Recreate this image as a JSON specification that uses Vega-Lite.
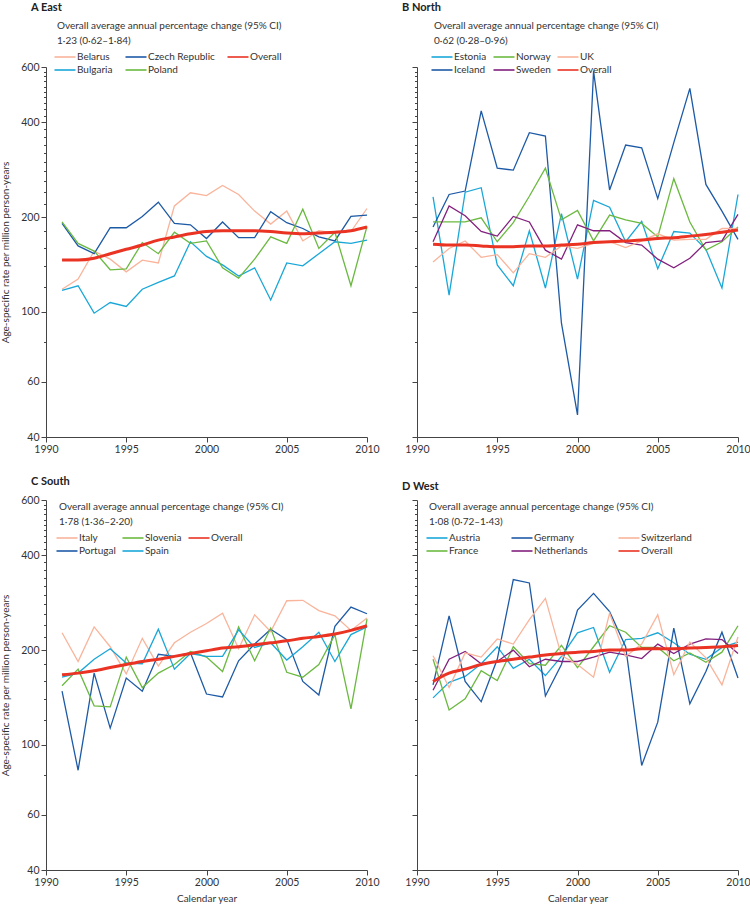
{
  "$schema": "https://vega.github.io/schema/vega-lite/v6.json",
  "padding": {"top": 2, "left": 0, "right": 0, "bottom": 0},
  "background": "white",
  "resolve": {"scale": {"color": "independent"}, "legend": {"color": "independent"}},
  "config": {
    "view": {"stroke": null},
    "font": "Lato",
    "title": {"font": "Lato", "fontSize": 11, "fontWeight": "bold", "color": "#222", "anchor": "start", "frame": "group", "dx": -15, "offset": 8},
    "axis": {"domainColor": "#444", "tickColor": "#444", "labelFont": "Lato", "labelFontSize": 10.5, "labelColor": "#333", "titleFont": "Lato", "titleFontWeight": "normal", "titleFontSize": 10, "titleColor": "#333", "grid": false, "labelFlush": false},
    "legend": {"symbolType": "M-1.5,0H1.5", "symbolSize": 196, "symbolStrokeWidth": 1.6, "labelFont": "Lato", "labelFontSize": 10, "labelColor": "#333", "titleFont": "Lato", "titleFontWeight": "normal", "titleFontSize": 10, "titleColor": "#333", "titleLineHeight": 15, "titlePadding": 3, "rowPadding": 0, "columnPadding": 6, "labelOffset": 4, "titleLimit": 400, "labelLimit": 200, "padding": 0, "offset": 0, "columns": 3, "orient": "none"}
  },
  "datasets": {
    "east": [
      {"country":"Belarus","year":1991,"rate":118},{"country":"Belarus","year":1992,"rate":127},{"country":"Belarus","year":1993,"rate":156},{"country":"Belarus","year":1994,"rate":147},{"country":"Belarus","year":1995,"rate":134},{"country":"Belarus","year":1996,"rate":146},{"country":"Belarus","year":1997,"rate":143},{"country":"Belarus","year":1998,"rate":217},{"country":"Belarus","year":1999,"rate":239},{"country":"Belarus","year":2000,"rate":234},{"country":"Belarus","year":2001,"rate":252},{"country":"Belarus","year":2002,"rate":236},{"country":"Belarus","year":2003,"rate":209},{"country":"Belarus","year":2004,"rate":190},{"country":"Belarus","year":2005,"rate":209},{"country":"Belarus","year":2006,"rate":168},{"country":"Belarus","year":2007,"rate":181},{"country":"Belarus","year":2008,"rate":178},{"country":"Belarus","year":2009,"rate":180},{"country":"Belarus","year":2010,"rate":213},
      {"country":"Czech Republic","year":1991,"rate":191},{"country":"Czech Republic","year":1992,"rate":162},{"country":"Czech Republic","year":1993,"rate":153},{"country":"Czech Republic","year":1994,"rate":185},{"country":"Czech Republic","year":1995,"rate":185},{"country":"Czech Republic","year":1996,"rate":201},{"country":"Czech Republic","year":1997,"rate":223},{"country":"Czech Republic","year":1998,"rate":191},{"country":"Czech Republic","year":1999,"rate":189},{"country":"Czech Republic","year":2000,"rate":171},{"country":"Czech Republic","year":2001,"rate":193},{"country":"Czech Republic","year":2002,"rate":172},{"country":"Czech Republic","year":2003,"rate":172},{"country":"Czech Republic","year":2004,"rate":208},{"country":"Czech Republic","year":2005,"rate":192},{"country":"Czech Republic","year":2006,"rate":184},{"country":"Czech Republic","year":2007,"rate":173},{"country":"Czech Republic","year":2008,"rate":168},{"country":"Czech Republic","year":2009,"rate":201},{"country":"Czech Republic","year":2010,"rate":203},
      {"country":"Bulgaria","year":1991,"rate":117},{"country":"Bulgaria","year":1992,"rate":121},{"country":"Bulgaria","year":1993,"rate":99},{"country":"Bulgaria","year":1994,"rate":107},{"country":"Bulgaria","year":1995,"rate":104},{"country":"Bulgaria","year":1996,"rate":118},{"country":"Bulgaria","year":1997,"rate":124},{"country":"Bulgaria","year":1998,"rate":130},{"country":"Bulgaria","year":1999,"rate":167},{"country":"Bulgaria","year":2000,"rate":150},{"country":"Bulgaria","year":2001,"rate":141},{"country":"Bulgaria","year":2002,"rate":130},{"country":"Bulgaria","year":2003,"rate":138},{"country":"Bulgaria","year":2004,"rate":109},{"country":"Bulgaria","year":2005,"rate":143},{"country":"Bulgaria","year":2006,"rate":140},{"country":"Bulgaria","year":2007,"rate":153},{"country":"Bulgaria","year":2008,"rate":167},{"country":"Bulgaria","year":2009,"rate":165},{"country":"Bulgaria","year":2010,"rate":169},
      {"country":"Poland","year":1991,"rate":193},{"country":"Poland","year":1992,"rate":165},{"country":"Poland","year":1993,"rate":156},{"country":"Poland","year":1994,"rate":136},{"country":"Poland","year":1995,"rate":137},{"country":"Poland","year":1996,"rate":166},{"country":"Poland","year":1997,"rate":153},{"country":"Poland","year":1998,"rate":179},{"country":"Poland","year":1999,"rate":165},{"country":"Poland","year":2000,"rate":168},{"country":"Poland","year":2001,"rate":138},{"country":"Poland","year":2002,"rate":128},{"country":"Poland","year":2003,"rate":147},{"country":"Poland","year":2004,"rate":173},{"country":"Poland","year":2005,"rate":165},{"country":"Poland","year":2006,"rate":212},{"country":"Poland","year":2007,"rate":159},{"country":"Poland","year":2008,"rate":179},{"country":"Poland","year":2009,"rate":121},{"country":"Poland","year":2010,"rate":187},
      {"country":"Overall","year":1991,"rate":146},{"country":"Overall","year":1992,"rate":146},{"country":"Overall","year":1993,"rate":148},{"country":"Overall","year":1994,"rate":153},{"country":"Overall","year":1995,"rate":158},{"country":"Overall","year":1996,"rate":163},{"country":"Overall","year":1997,"rate":169},{"country":"Overall","year":1998,"rate":173},{"country":"Overall","year":1999,"rate":177},{"country":"Overall","year":2000,"rate":180},{"country":"Overall","year":2001,"rate":181},{"country":"Overall","year":2002,"rate":181},{"country":"Overall","year":2003,"rate":181},{"country":"Overall","year":2004,"rate":180},{"country":"Overall","year":2005,"rate":178},{"country":"Overall","year":2006,"rate":177},{"country":"Overall","year":2007,"rate":178},{"country":"Overall","year":2008,"rate":179},{"country":"Overall","year":2009,"rate":181},{"country":"Overall","year":2010,"rate":186}
    ],
    "north": [
      {"country":"Estonia","year":1991,"rate":232},{"country":"Estonia","year":1992,"rate":113},{"country":"Estonia","year":1993,"rate":240},{"country":"Estonia","year":1994,"rate":248},{"country":"Estonia","year":1995,"rate":141},{"country":"Estonia","year":1996,"rate":121},{"country":"Estonia","year":1997,"rate":181},{"country":"Estonia","year":1998,"rate":119},{"country":"Estonia","year":1999,"rate":205},{"country":"Estonia","year":2000,"rate":127},{"country":"Estonia","year":2001,"rate":226},{"country":"Estonia","year":2002,"rate":215},{"country":"Estonia","year":2003,"rate":167},{"country":"Estonia","year":2004,"rate":194},{"country":"Estonia","year":2005,"rate":137},{"country":"Estonia","year":2006,"rate":180},{"country":"Estonia","year":2007,"rate":178},{"country":"Estonia","year":2008,"rate":158},{"country":"Estonia","year":2009,"rate":119},{"country":"Estonia","year":2010,"rate":236},
      {"country":"Iceland","year":1991,"rate":186},{"country":"Iceland","year":1992,"rate":236},{"country":"Iceland","year":1993,"rate":242},{"country":"Iceland","year":1994,"rate":435},{"country":"Iceland","year":1995,"rate":286},{"country":"Iceland","year":1996,"rate":282},{"country":"Iceland","year":1997,"rate":371},{"country":"Iceland","year":1998,"rate":362},{"country":"Iceland","year":1999,"rate":92},{"country":"Iceland","year":2000,"rate":47},{"country":"Iceland","year":2001,"rate":582},{"country":"Iceland","year":2002,"rate":244},{"country":"Iceland","year":2003,"rate":339},{"country":"Iceland","year":2004,"rate":332},{"country":"Iceland","year":2005,"rate":229},{"country":"Iceland","year":2006,"rate":345},{"country":"Iceland","year":2007,"rate":513},{"country":"Iceland","year":2008,"rate":254},{"country":"Iceland","year":2009,"rate":209},{"country":"Iceland","year":2010,"rate":170},
      {"country":"Norway","year":1991,"rate":193},{"country":"Norway","year":1992,"rate":193},{"country":"Norway","year":1993,"rate":193},{"country":"Norway","year":1994,"rate":199},{"country":"Norway","year":1995,"rate":167},{"country":"Norway","year":1996,"rate":192},{"country":"Norway","year":1997,"rate":233},{"country":"Norway","year":1998,"rate":286},{"country":"Norway","year":1999,"rate":196},{"country":"Norway","year":2000,"rate":210},{"country":"Norway","year":2001,"rate":168},{"country":"Norway","year":2002,"rate":203},{"country":"Norway","year":2003,"rate":196},{"country":"Norway","year":2004,"rate":191},{"country":"Norway","year":2005,"rate":173},{"country":"Norway","year":2006,"rate":265},{"country":"Norway","year":2007,"rate":193},{"country":"Norway","year":2008,"rate":157},{"country":"Norway","year":2009,"rate":167},{"country":"Norway","year":2010,"rate":186},
      {"country":"Sweden","year":1991,"rate":167},{"country":"Sweden","year":1992,"rate":217},{"country":"Sweden","year":1993,"rate":202},{"country":"Sweden","year":1994,"rate":180},{"country":"Sweden","year":1995,"rate":174},{"country":"Sweden","year":1996,"rate":201},{"country":"Sweden","year":1997,"rate":193},{"country":"Sweden","year":1998,"rate":157},{"country":"Sweden","year":1999,"rate":147},{"country":"Sweden","year":2000,"rate":189},{"country":"Sweden","year":2001,"rate":181},{"country":"Sweden","year":2002,"rate":181},{"country":"Sweden","year":2003,"rate":166},{"country":"Sweden","year":2004,"rate":163},{"country":"Sweden","year":2005,"rate":147},{"country":"Sweden","year":2006,"rate":138},{"country":"Sweden","year":2007,"rate":148},{"country":"Sweden","year":2008,"rate":166},{"country":"Sweden","year":2009,"rate":168},{"country":"Sweden","year":2010,"rate":204},
      {"country":"UK","year":1991,"rate":144},{"country":"UK","year":1992,"rate":159},{"country":"UK","year":1993,"rate":168},{"country":"UK","year":1994,"rate":149},{"country":"UK","year":1995,"rate":152},{"country":"UK","year":1996,"rate":133},{"country":"UK","year":1997,"rate":153},{"country":"UK","year":1998,"rate":149},{"country":"UK","year":1999,"rate":162},{"country":"UK","year":2000,"rate":159},{"country":"UK","year":2001,"rate":165},{"country":"UK","year":2002,"rate":167},{"country":"UK","year":2003,"rate":160},{"country":"UK","year":2004,"rate":168},{"country":"UK","year":2005,"rate":177},{"country":"UK","year":2006,"rate":169},{"country":"UK","year":2007,"rate":170},{"country":"UK","year":2008,"rate":170},{"country":"UK","year":2009,"rate":184},{"country":"UK","year":2010,"rate":184},
      {"country":"Overall","year":1991,"rate":164},{"country":"Overall","year":1992,"rate":163},{"country":"Overall","year":1993,"rate":163},{"country":"Overall","year":1994,"rate":162},{"country":"Overall","year":1995,"rate":161},{"country":"Overall","year":1996,"rate":161},{"country":"Overall","year":1997,"rate":162},{"country":"Overall","year":1998,"rate":162},{"country":"Overall","year":1999,"rate":163},{"country":"Overall","year":2000,"rate":164},{"country":"Overall","year":2001,"rate":166},{"country":"Overall","year":2002,"rate":167},{"country":"Overall","year":2003,"rate":168},{"country":"Overall","year":2004,"rate":169},{"country":"Overall","year":2005,"rate":171},{"country":"Overall","year":2006,"rate":172},{"country":"Overall","year":2007,"rate":174},{"country":"Overall","year":2008,"rate":176},{"country":"Overall","year":2009,"rate":179},{"country":"Overall","year":2010,"rate":182}
    ],
    "south": [
      {"country":"Italy","year":1991,"rate":227},{"country":"Italy","year":1992,"rate":184},{"country":"Italy","year":1993,"rate":237},{"country":"Italy","year":1994,"rate":205},{"country":"Italy","year":1995,"rate":168},{"country":"Italy","year":1996,"rate":218},{"country":"Italy","year":1997,"rate":178},{"country":"Italy","year":1998,"rate":211},{"country":"Italy","year":1999,"rate":228},{"country":"Italy","year":2000,"rate":243},{"country":"Italy","year":2001,"rate":262},{"country":"Italy","year":2002,"rate":202},{"country":"Italy","year":2003,"rate":259},{"country":"Italy","year":2004,"rate":229},{"country":"Italy","year":2005,"rate":287},{"country":"Italy","year":2006,"rate":288},{"country":"Italy","year":2007,"rate":267},{"country":"Italy","year":2008,"rate":257},{"country":"Italy","year":2009,"rate":231},{"country":"Italy","year":2010,"rate":253},
      {"country":"Portugal","year":1991,"rate":148},{"country":"Portugal","year":1992,"rate":83},{"country":"Portugal","year":1993,"rate":169},{"country":"Portugal","year":1994,"rate":113},{"country":"Portugal","year":1995,"rate":163},{"country":"Portugal","year":1996,"rate":148},{"country":"Portugal","year":1997,"rate":194},{"country":"Portugal","year":1998,"rate":191},{"country":"Portugal","year":1999,"rate":196},{"country":"Portugal","year":2000,"rate":145},{"country":"Portugal","year":2001,"rate":142},{"country":"Portugal","year":2002,"rate":185},{"country":"Portugal","year":2003,"rate":209},{"country":"Portugal","year":2004,"rate":233},{"country":"Portugal","year":2005,"rate":216},{"country":"Portugal","year":2006,"rate":159},{"country":"Portugal","year":2007,"rate":144},{"country":"Portugal","year":2008,"rate":238},{"country":"Portugal","year":2009,"rate":274},{"country":"Portugal","year":2010,"rate":261},
      {"country":"Slovenia","year":1991,"rate":154},{"country":"Slovenia","year":1992,"rate":174},{"country":"Slovenia","year":1993,"rate":133},{"country":"Slovenia","year":1994,"rate":132},{"country":"Slovenia","year":1995,"rate":190},{"country":"Slovenia","year":1996,"rate":152},{"country":"Slovenia","year":1997,"rate":169},{"country":"Slovenia","year":1998,"rate":180},{"country":"Slovenia","year":1999,"rate":198},{"country":"Slovenia","year":2000,"rate":190},{"country":"Slovenia","year":2001,"rate":171},{"country":"Slovenia","year":2002,"rate":237},{"country":"Slovenia","year":2003,"rate":185},{"country":"Slovenia","year":2004,"rate":235},{"country":"Slovenia","year":2005,"rate":170},{"country":"Slovenia","year":2006,"rate":164},{"country":"Slovenia","year":2007,"rate":180},{"country":"Slovenia","year":2008,"rate":224},{"country":"Slovenia","year":2009,"rate":130},{"country":"Slovenia","year":2010,"rate":251},
      {"country":"Spain","year":1991,"rate":164},{"country":"Spain","year":1992,"rate":169},{"country":"Spain","year":1993,"rate":187},{"country":"Spain","year":1994,"rate":202},{"country":"Spain","year":1995,"rate":182},{"country":"Spain","year":1996,"rate":181},{"country":"Spain","year":1997,"rate":233},{"country":"Spain","year":1998,"rate":174},{"country":"Spain","year":1999,"rate":195},{"country":"Spain","year":2000,"rate":191},{"country":"Spain","year":2001,"rate":191},{"country":"Spain","year":2002,"rate":232},{"country":"Spain","year":2003,"rate":204},{"country":"Spain","year":2004,"rate":211},{"country":"Spain","year":2005,"rate":186},{"country":"Spain","year":2006,"rate":205},{"country":"Spain","year":2007,"rate":228},{"country":"Spain","year":2008,"rate":184},{"country":"Spain","year":2009,"rate":224},{"country":"Spain","year":2010,"rate":237},
      {"country":"Overall","year":1991,"rate":167},{"country":"Overall","year":1992,"rate":169},{"country":"Overall","year":1993,"rate":172},{"country":"Overall","year":1994,"rate":176},{"country":"Overall","year":1995,"rate":180},{"country":"Overall","year":1996,"rate":184},{"country":"Overall","year":1997,"rate":187},{"country":"Overall","year":1998,"rate":191},{"country":"Overall","year":1999,"rate":195},{"country":"Overall","year":2000,"rate":199},{"country":"Overall","year":2001,"rate":203},{"country":"Overall","year":2002,"rate":205},{"country":"Overall","year":2003,"rate":208},{"country":"Overall","year":2004,"rate":211},{"country":"Overall","year":2005,"rate":214},{"country":"Overall","year":2006,"rate":218},{"country":"Overall","year":2007,"rate":221},{"country":"Overall","year":2008,"rate":225},{"country":"Overall","year":2009,"rate":231},{"country":"Overall","year":2010,"rate":239}
    ],
    "west": [
      {"country":"Austria","year":1991,"rate":141},{"country":"Austria","year":1992,"rate":158},{"country":"Austria","year":1993,"rate":165},{"country":"Austria","year":1994,"rate":181},{"country":"Austria","year":1995,"rate":205},{"country":"Austria","year":1996,"rate":175},{"country":"Austria","year":1997,"rate":187},{"country":"Austria","year":1998,"rate":166},{"country":"Austria","year":1999,"rate":191},{"country":"Austria","year":2000,"rate":227},{"country":"Austria","year":2001,"rate":236},{"country":"Austria","year":2002,"rate":170},{"country":"Austria","year":2003,"rate":216},{"country":"Austria","year":2004,"rate":218},{"country":"Austria","year":2005,"rate":227},{"country":"Austria","year":2006,"rate":211},{"country":"Austria","year":2007,"rate":194},{"country":"Austria","year":2008,"rate":187},{"country":"Austria","year":2009,"rate":204},{"country":"Austria","year":2010,"rate":212},
      {"country":"Germany","year":1991,"rate":155},{"country":"Germany","year":1992,"rate":257},{"country":"Germany","year":1993,"rate":159},{"country":"Germany","year":1994,"rate":137},{"country":"Germany","year":1995,"rate":187},{"country":"Germany","year":1996,"rate":335},{"country":"Germany","year":1997,"rate":327},{"country":"Germany","year":1998,"rate":143},{"country":"Germany","year":1999,"rate":180},{"country":"Germany","year":2000,"rate":268},{"country":"Germany","year":2001,"rate":303},{"country":"Germany","year":2002,"rate":265},{"country":"Germany","year":2003,"rate":205},{"country":"Germany","year":2004,"rate":86},{"country":"Germany","year":2005,"rate":118},{"country":"Germany","year":2006,"rate":235},{"country":"Germany","year":2007,"rate":135},{"country":"Germany","year":2008,"rate":171},{"country":"Germany","year":2009,"rate":228},{"country":"Germany","year":2010,"rate":163},
      {"country":"France","year":1991,"rate":187},{"country":"France","year":1992,"rate":129},{"country":"France","year":1993,"rate":140},{"country":"France","year":1994,"rate":172},{"country":"France","year":1995,"rate":160},{"country":"France","year":1996,"rate":205},{"country":"France","year":1997,"rate":181},{"country":"France","year":1998,"rate":179},{"country":"France","year":1999,"rate":207},{"country":"France","year":2000,"rate":176},{"country":"France","year":2001,"rate":205},{"country":"France","year":2002,"rate":239},{"country":"France","year":2003,"rate":228},{"country":"France","year":2004,"rate":204},{"country":"France","year":2005,"rate":204},{"country":"France","year":2006,"rate":185},{"country":"France","year":2007,"rate":196},{"country":"France","year":2008,"rate":183},{"country":"France","year":2009,"rate":197},{"country":"France","year":2010,"rate":239},
      {"country":"Netherlands","year":1991,"rate":149},{"country":"Netherlands","year":1992,"rate":187},{"country":"Netherlands","year":1993,"rate":198},{"country":"Netherlands","year":1994,"rate":181},{"country":"Netherlands","year":1995,"rate":184},{"country":"Netherlands","year":1996,"rate":200},{"country":"Netherlands","year":1997,"rate":177},{"country":"Netherlands","year":1998,"rate":187},{"country":"Netherlands","year":1999,"rate":184},{"country":"Netherlands","year":2000,"rate":184},{"country":"Netherlands","year":2001,"rate":190},{"country":"Netherlands","year":2002,"rate":197},{"country":"Netherlands","year":2003,"rate":193},{"country":"Netherlands","year":2004,"rate":188},{"country":"Netherlands","year":2005,"rate":209},{"country":"Netherlands","year":2006,"rate":195},{"country":"Netherlands","year":2007,"rate":209},{"country":"Netherlands","year":2008,"rate":217},{"country":"Netherlands","year":2009,"rate":216},{"country":"Netherlands","year":2010,"rate":195},
      {"country":"Switzerland","year":1991,"rate":192},{"country":"Switzerland","year":1992,"rate":152},{"country":"Switzerland","year":1993,"rate":196},{"country":"Switzerland","year":1994,"rate":190},{"country":"Switzerland","year":1995,"rate":217},{"country":"Switzerland","year":1996,"rate":209},{"country":"Switzerland","year":1997,"rate":250},{"country":"Switzerland","year":1998,"rate":292},{"country":"Switzerland","year":1999,"rate":192},{"country":"Switzerland","year":2000,"rate":180},{"country":"Switzerland","year":2001,"rate":164},{"country":"Switzerland","year":2002,"rate":262},{"country":"Switzerland","year":2003,"rate":191},{"country":"Switzerland","year":2004,"rate":209},{"country":"Switzerland","year":2005,"rate":259},{"country":"Switzerland","year":2006,"rate":167},{"country":"Switzerland","year":2007,"rate":212},{"country":"Switzerland","year":2008,"rate":189},{"country":"Switzerland","year":2009,"rate":155},{"country":"Switzerland","year":2010,"rate":220},
      {"country":"Overall","year":1991,"rate":159},{"country":"Overall","year":1992,"rate":169},{"country":"Overall","year":1993,"rate":174},{"country":"Overall","year":1994,"rate":180},{"country":"Overall","year":1995,"rate":184},{"country":"Overall","year":1996,"rate":187},{"country":"Overall","year":1997,"rate":190},{"country":"Overall","year":1998,"rate":193},{"country":"Overall","year":1999,"rate":195},{"country":"Overall","year":2000,"rate":197},{"country":"Overall","year":2001,"rate":198},{"country":"Overall","year":2002,"rate":200},{"country":"Overall","year":2003,"rate":200},{"country":"Overall","year":2004,"rate":202},{"country":"Overall","year":2005,"rate":202},{"country":"Overall","year":2006,"rate":202},{"country":"Overall","year":2007,"rate":203},{"country":"Overall","year":2008,"rate":204},{"country":"Overall","year":2009,"rate":205},{"country":"Overall","year":2010,"rate":207}
    ]
  },
  "vconcat": [
    {
      "resolve": {"scale": {"color": "independent"}, "legend": {"color": "independent"}},
      "hconcat": [
        {
          "width": 321, "height": 370,
          "title": {"text": "A   East"},
          "data": {"name": "east"},
          "encoding": {
            "x": {"field": "year", "type": "quantitative", "scale": {"domain": [1990, 2010], "nice": false, "zero": false}, "axis": {"values": [1990, 1995, 2000, 2005, 2010], "format": "d", "title": null, "tickSize": 5, "labelPadding": 2}},
            "y": {"field": "rate", "type": "quantitative", "scale": {"type": "log", "domain": [40, 600], "nice": false}, "axis": {"values": [40,60,80,100,120,140,160,180,200,220,240,260,280,300,320,340,360,380,400,420,440,460,480,500,520,540,560,580,600], "format": "d", "labelExpr": "indexof([40,60,100,200,400,600], datum.value) >= 0 ? datum.label : ''", "tickSize": {"condition": {"test": "indexof([40,60,100,200,400,600], datum.value) >= 0", "value": 5}, "value": 2.5}, "labelPadding": 2, "title": "Age-specific rate per million person-years", "titlePadding": 10}},
            "color": {"field": "country", "type": "nominal", "scale": {"domain": ["Belarus", "Bulgaria", "Czech Republic", "Poland", "Overall"], "range": ["#f9b49b", "#1aa7d8", "#1d5aa6", "#6bb940", "#ea3323"]}, "legend": {"title": ["Overall average annual percentage change (95% CI)", "1·23 (0·62–1·84)"], "legendX": 11, "legendY": -46, "columnPadding": 9}}
          },
          "layer": [
            {"transform": [{"filter": "datum.country !== 'Overall'"}], "mark": {"type": "line", "strokeWidth": 1.3}},
            {"transform": [{"filter": "datum.country === 'Overall'"}], "mark": {"type": "line", "strokeWidth": 3, "interpolate": "monotone"}}
          ]
        },
        {
          "width": 321, "height": 370,
          "title": {"text": "B   North"},
          "data": {"name": "north"},
          "encoding": {
            "x": {"field": "year", "type": "quantitative", "scale": {"domain": [1990, 2010], "nice": false, "zero": false}, "axis": {"values": [1990, 1995, 2000, 2005, 2010], "format": "d", "title": null, "tickSize": 5, "labelPadding": 2}},
            "y": {"field": "rate", "type": "quantitative", "scale": {"type": "log", "domain": [40, 600], "nice": false}, "axis": {"values": [40,60,80,100,120,140,160,180,200,220,240,260,280,300,320,340,360,380,400,420,440,460,480,500,520,540,560,580,600], "labels": false, "tickSize": {"condition": {"test": "indexof([40,60,100,200,400,600], datum.value) >= 0", "value": 5}, "value": 2.5}, "title": null}},
            "color": {"field": "country", "type": "nominal", "scale": {"domain": ["Estonia", "Iceland", "Norway", "Sweden", "UK", "Overall"], "range": ["#1aa7d8", "#1d5aa6", "#6bb940", "#83207e", "#f9b49b", "#ea3323"]}, "legend": {"title": ["Overall average  annual percentage change (95% CI)", "0·62 (0·28–0·96)"], "legendX": 17, "legendY": -46, "columnPadding": 3}}
          },
          "layer": [
            {"transform": [{"filter": "datum.country !== 'Overall'"}], "mark": {"type": "line", "strokeWidth": 1.3}},
            {"transform": [{"filter": "datum.country === 'Overall'"}], "mark": {"type": "line", "strokeWidth": 3, "interpolate": "monotone"}}
          ]
        }
      ],
      "spacing": 22
    },
    {
      "resolve": {"scale": {"color": "independent"}, "legend": {"color": "independent"}},
      "hconcat": [
        {
          "width": 321, "height": 370,
          "title": {"text": "C   South"},
          "data": {"name": "south"},
          "encoding": {
            "x": {"field": "year", "type": "quantitative", "scale": {"domain": [1990, 2010], "nice": false, "zero": false}, "axis": {"values": [1990, 1995, 2000, 2005, 2010], "format": "d", "title": "Calendar year", "titlePadding": 6, "tickSize": 5, "labelPadding": 2}},
            "y": {"field": "rate", "type": "quantitative", "scale": {"type": "log", "domain": [40, 600], "nice": false}, "axis": {"values": [40,60,80,100,120,140,160,180,200,220,240,260,280,300,320,340,360,380,400,420,440,460,480,500,520,540,560,580,600], "format": "d", "labelExpr": "indexof([40,60,100,200,400,600], datum.value) >= 0 ? datum.label : ''", "tickSize": {"condition": {"test": "indexof([40,60,100,200,400,600], datum.value) >= 0", "value": 5}, "value": 2.5}, "labelPadding": 2, "title": "Age-specific rate per million person-years", "titlePadding": 10}},
            "color": {"field": "country", "type": "nominal", "scale": {"domain": ["Italy", "Portugal", "Slovenia", "Spain", "Overall"], "range": ["#f9b49b", "#1d5aa6", "#6bb940", "#1aa7d8", "#ea3323"]}, "legend": {"title": ["Overall average annual percentage change (95% CI)", "1·78 (1·36–2·20)"], "legendX": 13, "legendY": 2, "columnPadding": 3}}
          },
          "layer": [
            {"transform": [{"filter": "datum.country !== 'Overall'"}], "mark": {"type": "line", "strokeWidth": 1.3}},
            {"transform": [{"filter": "datum.country === 'Overall'"}], "mark": {"type": "line", "strokeWidth": 3, "interpolate": "monotone"}}
          ]
        },
        {
          "width": 321, "height": 370,
          "title": {"text": "D   West"},
          "data": {"name": "west"},
          "encoding": {
            "x": {"field": "year", "type": "quantitative", "scale": {"domain": [1990, 2010], "nice": false, "zero": false}, "axis": {"values": [1990, 1995, 2000, 2005, 2010], "format": "d", "title": "Calendar year", "titlePadding": 6, "tickSize": 5, "labelPadding": 2}},
            "y": {"field": "rate", "type": "quantitative", "scale": {"type": "log", "domain": [40, 600], "nice": false}, "axis": {"values": [40,60,80,100,120,140,160,180,200,220,240,260,280,300,320,340,360,380,400,420,440,460,480,500,520,540,560,580,600], "labels": false, "tickSize": {"condition": {"test": "indexof([40,60,100,200,400,600], datum.value) >= 0", "value": 5}, "value": 2.5}, "title": null}},
            "color": {"field": "country", "type": "nominal", "scale": {"domain": ["Austria", "France", "Germany", "Netherlands", "Switzerland", "Overall"], "range": ["#1aa7d8", "#6bb940", "#1d5aa6", "#83207e", "#f9b49b", "#ea3323"]}, "legend": {"title": ["Overall average annual percentage change (95% CI)", "1·08 (0·72–1·43)"], "legendX": 12, "legendY": 2, "columnPadding": 27}}
          },
          "layer": [
            {"transform": [{"filter": "datum.country !== 'Overall'"}], "mark": {"type": "line", "strokeWidth": 1.3}},
            {"transform": [{"filter": "datum.country === 'Overall'"}], "mark": {"type": "line", "strokeWidth": 3, "interpolate": "monotone"}}
          ]
        }
      ],
      "spacing": 22
    }
  ],
  "spacing": 21
}
